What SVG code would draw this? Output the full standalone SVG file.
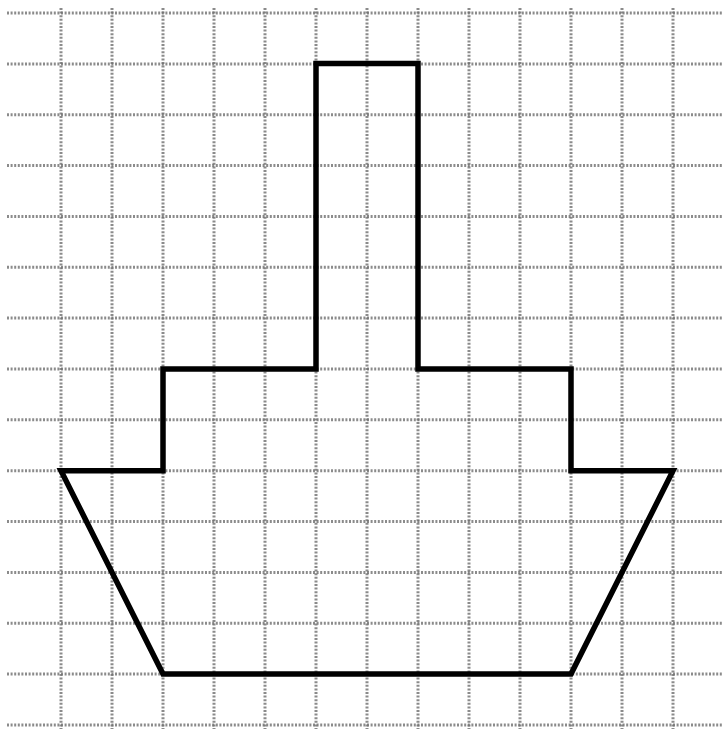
<svg xmlns="http://www.w3.org/2000/svg" width="723" height="729" viewBox="0 0 723 729">
<style>
.g{stroke:#6e6e6e;stroke-width:3;stroke-dasharray:2 1.6;fill:none;opacity:0.8}
.s{stroke:#000;stroke-width:5.5;fill:none;stroke-linejoin:miter}
</style>
<rect width="723" height="729" fill="#fff"/>
<g id="grid">
<path class="g" d="M7 13H723M7 63.9H723M7 114.7H723M7 165.6H723M7 216.4H723M7 267.3H723M7 318.1H723M7 369H723M7 419.8H723M7 470.7H723M7 521.5H723M7 572.4H723M7 623.2H723M7 674H723M7 724.9H723"/>
<path class="g" d="M61 8V729M112 8V729M163 8V729M214 8V729M265 8V729M316 8V729M367 8V729M418 8V729M469 8V729M520 8V729M571 8V729M622 8V729M673 8V729"/>
</g>
<g id="ship">
<polygon class="s" points="316,63.5 418,63.5 418,369 571,369 571,470.7 673,470.7 571,674 163,674 61,470.7 163,470.7 163,369 316,369"/>
</g>
</svg>
